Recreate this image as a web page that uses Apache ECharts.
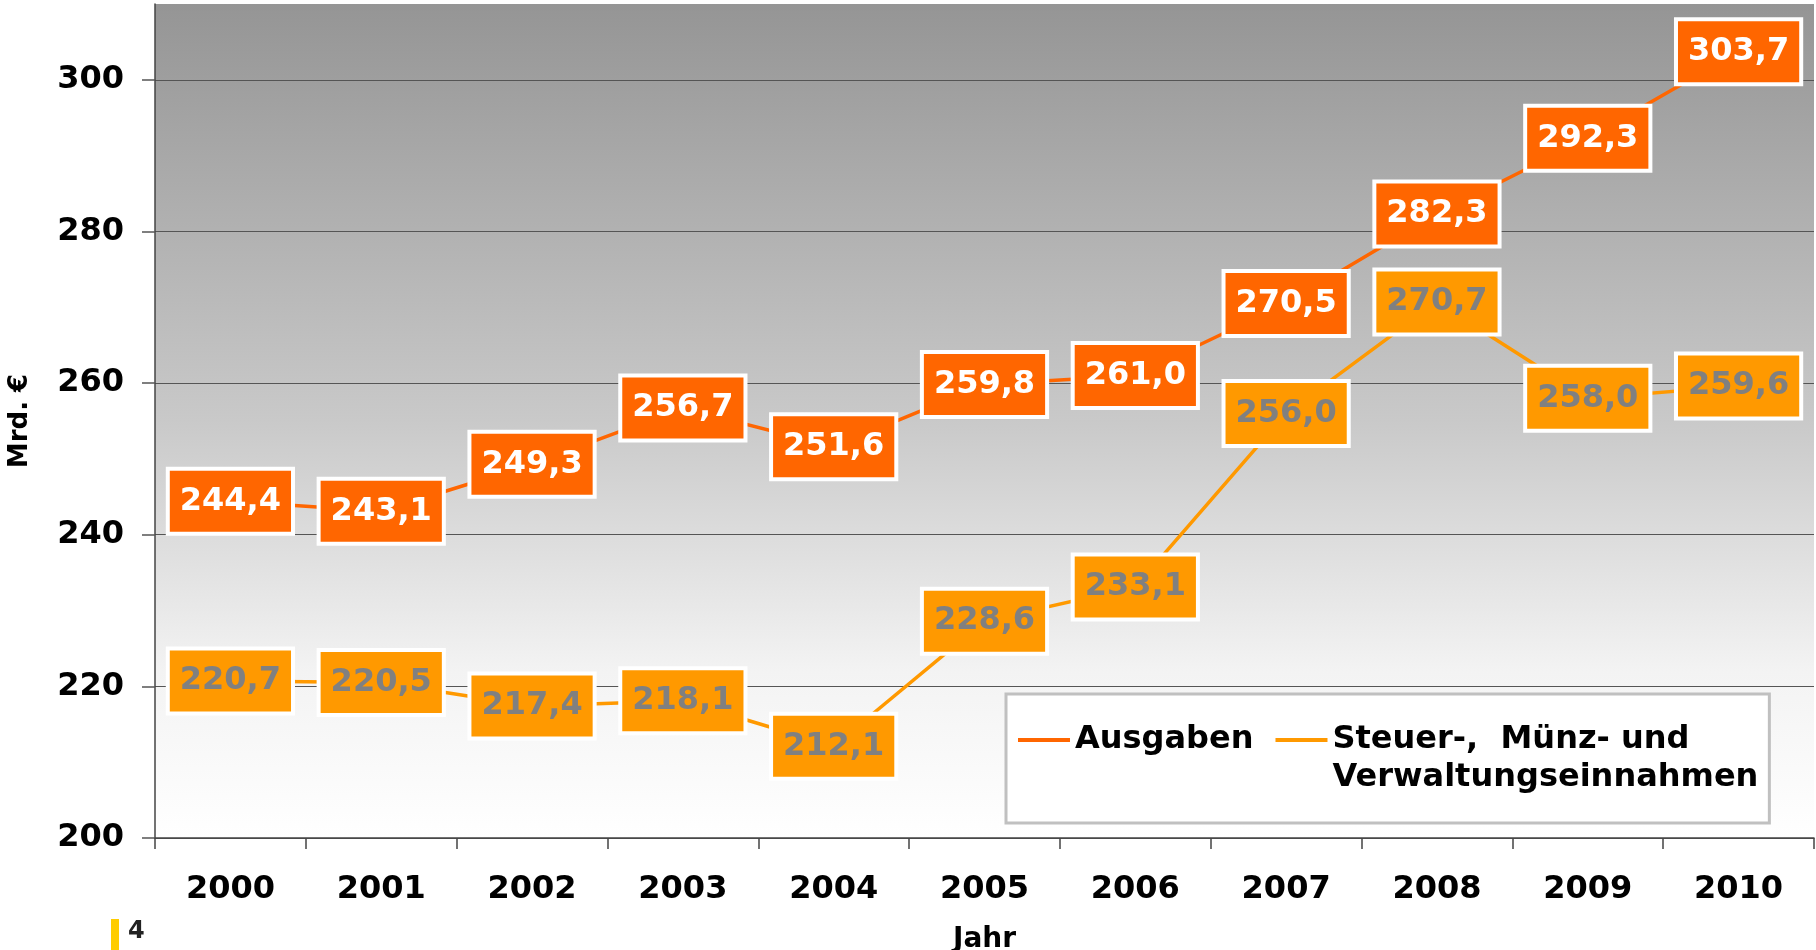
<!DOCTYPE html>
<html>
<head>
<meta charset="utf-8">
<script src="https://cdn.jsdelivr.net/npm/echarts@6/dist/echarts.min.js"></script>
<style>
  html, body { margin: 0; padding: 0; background: #fff; }
  #chart { width: 1816px; height: 950px; }
</style>
</head>
<body>
<div id="chart"></div>
<script>
// Jahre
const years = ['2000', '2001', '2002', '2003', '2004', '2005', '2006', '2007', '2008', '2009', '2010'];
// Mrd. €
const ausgaben = [244.4, 243.1, 249.3, 256.7, 251.6, 259.8, 261.0, 270.5, 282.3, 292.3, 303.7];
const einnahmen = [220.7, 220.5, 217.4, 218.1, 212.1, 228.6, 233.1, 256.0, 270.7, 258.0, 259.6];
const yTicks = [200, 220, 240, 260, 280, 300];

const FONT = 'DejaVu Sans';
const nameA = 'Ausgaben';
const nameB = 'Steuer-,  Münz- und Verwaltungseinnahmen';

// Zahl mit Komma
function fmt(v) {
  return v.toFixed(1).replace('.', ',');
}

function labelStyle(bg, textColor) {
  return {
    show: true,
    position: 'inside',
    formatter: function (p) { return fmt(p.value); },
    fontFamily: FONT,
    fontSize: 32,
    fontWeight: 'bold',
    lineHeight: 35,
    color: textColor,
    backgroundColor: bg,
    borderColor: '#ffffff',
    borderWidth: 4,
    padding: [13, 10]
  };
}

const chart = echarts.init(document.getElementById('chart'), null, { renderer: 'canvas' });

const option = {
  animation: false,
  grid: {
    left: 155,
    right: 2,
    top: 4,
    bottom: 112,
    outerBoundsMode: 'none',
    containLabel: false,
    show: true,
    borderWidth: 0,
    backgroundColor: {
      type: 'linear', x: 0, y: 0, x2: 0, y2: 1,
      colorStops: [
        { offset: 0, color: '#959595' },
        { offset: 0.5, color: '#c9c9c9' },
        { offset: 0.8, color: '#f3f3f3' },
        { offset: 1, color: '#ffffff' }
      ]
    }
  },
  legend: {
    left: 1006,
    top: 694,
    orient: 'horizontal',
    padding: [27, 11, 26, 12],
    itemWidth: 52,
    itemHeight: 76,
    itemGap: 22,
    symbolKeepAspect: false,
    icon: 'path://M0,0h0.1v0.1h-0.1z M0,17h52v4h-52z M51.9,75.9h0.1v0.1h-0.1z',
    itemStyle: { borderWidth: 0 },
    backgroundColor: '#ffffff',
    borderColor: '#c0c0c0',
    borderWidth: 3,
    textStyle: {
      fontFamily: FONT,
      fontSize: 32,
      fontWeight: 'bold',
      color: '#000',
      lineHeight: 38
    },
    formatter: function (name) {
      if (name === nameA) return 'Ausgaben\n ';
      return 'Steuer-,  Münz- und\nVerwaltungseinnahmen';
    },
    data: [nameA, nameB]
  },
  xAxis: {
    type: 'category',
    data: years,
    boundaryGap: true,
    name: 'Jahr',
    nameLocation: 'middle',
    nameGap: 88,
    nameTextStyle: { fontFamily: FONT, fontSize: 28, fontWeight: 'bold', color: '#000' },
    axisLine: { show: true, lineStyle: { color: '#444', width: 1.5 } },
    axisTick: { show: true, length: 11, lineStyle: { color: '#444', width: 1.5 } },
    axisLabel: {
      margin: 36,
      fontFamily: FONT,
      fontSize: 32,
      fontWeight: 'bold',
      color: '#000'
    },
    splitLine: { show: false }
  },
  yAxis: {
    type: 'value',
    min: 200,
    max: 310,
    name: 'Mrd. €',
    nameLocation: 'middle',
    nameRotate: 90,
    nameGap: 122,
    nameTextStyle: { fontFamily: FONT, fontSize: 26, fontWeight: 'bold', color: '#000' },
    axisLine: { show: true, lineStyle: { color: '#444', width: 1.5 } },
    axisTick: { show: true, length: 13, customValues: yTicks, lineStyle: { color: '#555', width: 1.5 } },
    axisLabel: {
      customValues: yTicks,
      margin: 31,
      padding: [4, 0, 0, 0],
      fontFamily: FONT,
      fontSize: 32,
      fontWeight: 'bold',
      color: '#000'
    },
    splitLine: { show: true, lineStyle: { color: '#555', width: 1.2 } }
  },
  series: [
    {
      name: nameA,
      type: 'line',
      data: ausgaben,
      symbol: 'circle',
      symbolSize: 1,
      z: 3,
      color: '#ff6600',
      lineStyle: { color: '#ff6600', width: 3.5 },
      itemStyle: { color: '#ff6600' },
      label: labelStyle('#ff6600', '#ffffff')
    },
    {
      name: nameB,
      type: 'line',
      data: einnahmen,
      symbol: 'circle',
      symbolSize: 1,
      z: 2,
      color: '#ff9900',
      lineStyle: { color: '#ff9900', width: 3.5 },
      itemStyle: { color: '#ff9900' },
      label: labelStyle('#ff9900', '#808080')
    }
  ],
  graphic: [
    { type: 'rect', left: 111, top: 919, shape: { width: 8, height: 31 }, style: { fill: '#ffcc00' } },
    { type: 'text', left: 128, top: 920, style: { text: '4', font: 'bold 24px "DejaVu Sans"', fill: '#222' } }
  ]
};

chart.setOption(option);
</script>
</body>
</html>
